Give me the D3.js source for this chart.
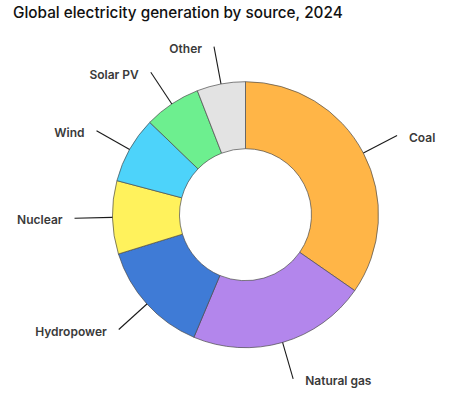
<!DOCTYPE html>
<html>
  <head>
    <title>Global electricity generation by source, 2024</title>
    <script src="https://d3js.org/d3.v7.min.js"></script>
    <style>
      body {
        margin: 0;
        background: white;
      }
      .title {
        font-family: Inter, "Noto Sans", sans-serif;
        font-size: 15.3px;
        font-weight: 500;
        fill: #111;
      }
      .label {
        font-family: Inter, "Noto Sans", sans-serif;
        font-size: 12px;
        font-weight: 600;
        fill: #3a3a3a;
      }
    </style>
  </head>
  <body>
    <svg width="453" height="396"></svg>
    <script>
      // Share of generation (%), clockwise from 12 o'clock
      var sources = ["Coal", "Natural gas", "Hydropower", "Nuclear", "Wind", "Solar PV", "Other"];
      var shares = [34.7, 21.7, 13.9, 8.9, 8.1, 6.9, 5.9];
      var colors = ["#ffb547", "#b386ec", "#3f7bd6", "#fff25c", "#4dd3fa", "#6def8f", "#e3e3e3"];

      var cx = 245.5,
        cy = 214.7,
        outerR = 133,
        innerR = 66,
        lineR = 171;

      var svg = d3.select("svg");

      svg
        .append("text")
        .attr("class", "title")
        .attr("x", 13)
        .attr("y", 18)
        .text("Global electricity generation by source, 2024");

      var data = sources.map(function (s, i) {
        return { name: s, value: shares[i], color: colors[i] };
      });

      var pie = d3
        .pie()
        .sort(null)
        .value(function (d) {
          return d.value;
        });

      var arc = d3.arc().innerRadius(innerR).outerRadius(outerR);

      var g = svg.append("g").attr("transform", "translate(" + cx + "," + cy + ")");

      var slices = pie(data);

      g.selectAll("path.slice")
        .data(slices)
        .enter()
        .append("path")
        .attr("class", "slice")
        .attr("d", arc)
        .style("fill", function (d) {
          return d.data.color;
        })
        .style("stroke", "#4a4a4a")
        .style("stroke-width", 0.7);

      // leader lines, radial from the outer edge at the slice middle
      slices.forEach(function (d) {
        var a = (d.startAngle + d.endAngle) / 2;
        var sx = Math.sin(a),
          sy = -Math.cos(a);
        var x1 = sx * outerR,
          y1 = sy * outerR,
          x2 = sx * lineR,
          y2 = sy * lineR;
        g.append("line")
          .attr("x1", x1)
          .attr("y1", y1)
          .attr("x2", x2)
          .attr("y2", y2)
          .style("stroke", "#1a1a1a")
          .style("stroke-width", 1.1);
        var right = sx > 0;
        g.append("text")
          .attr("class", "label")
          .attr("x", x2 + (right ? 12 : -12))
          .attr("y", y2 + 2)
          .attr("dy", "0.35em")
          .style("text-anchor", right ? "start" : "end")
          .text(d.data.name);
      });
    </script>
  </body>
</html>
